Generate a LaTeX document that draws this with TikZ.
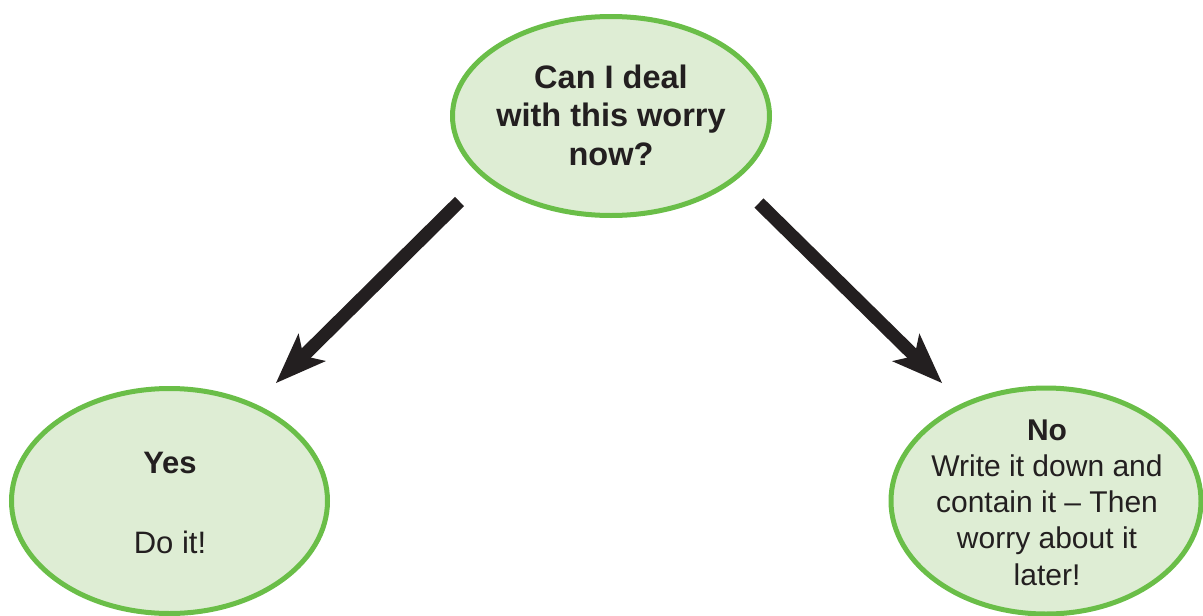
\documentclass[tikz,border=0pt]{standalone}
\usepackage{fontspec}
\setmainfont{Liberation Sans}
\usetikzlibrary{shapes.geometric,arrows.meta}
\definecolor{bubblefill}{RGB}{222,237,212}
\definecolor{bubbleline}{RGB}{106,190,72}
\definecolor{ink}{RGB}{35,31,32}
\begin{document}
\begin{tikzpicture}[x=1pt,y=-1pt,
  bubble/.style={ellipse, draw=bubbleline, fill=bubblefill, line width=5pt, inner sep=0pt},
  txt/.style={text=ink, align=center, inner sep=0pt, anchor=base},
  bigarrow/.style={draw=ink, line width=13pt, -{Stealth[length=51pt,width=39pt,inset=12.5pt,line width=0pt]}}]
\useasboundingbox (0,0) rectangle (1203,616);
\node[bubble, minimum width=317pt, minimum height=199pt] (q) at (611,116) {};
\node[bubble, minimum width=316pt, minimum height=225pt] (yes) at (169.5,501) {};
\node[bubble, minimum width=310pt, minimum height=226pt] (no) at (1046,501) {};
\node[txt, font=\bfseries\fontsize{32.5}{38.5}\selectfont] (qt) at (611,165) {Can I deal\\with this worry\\now?};
\node[txt, font=\fontsize{31}{40}\selectfont] (yt) at (170,553) {\textbf{Yes}\\[40pt]Do it!};
\node[txt, font=\fontsize{30}{36.25}\selectfont] (nt) at (1047,585) {\textbf{No}\\Write it down and\\contain it – Then\\worry about it\\later!};
\coordinate (l1) at (459.5,201.5);
\coordinate (l2) at (276,383);
\coordinate (r1) at (759,203);
\coordinate (r2) at (942,383);
\draw[bigarrow] (l1) -- (l2);
\draw[bigarrow] (r1) -- (r2);
\end{tikzpicture}
\end{document}
